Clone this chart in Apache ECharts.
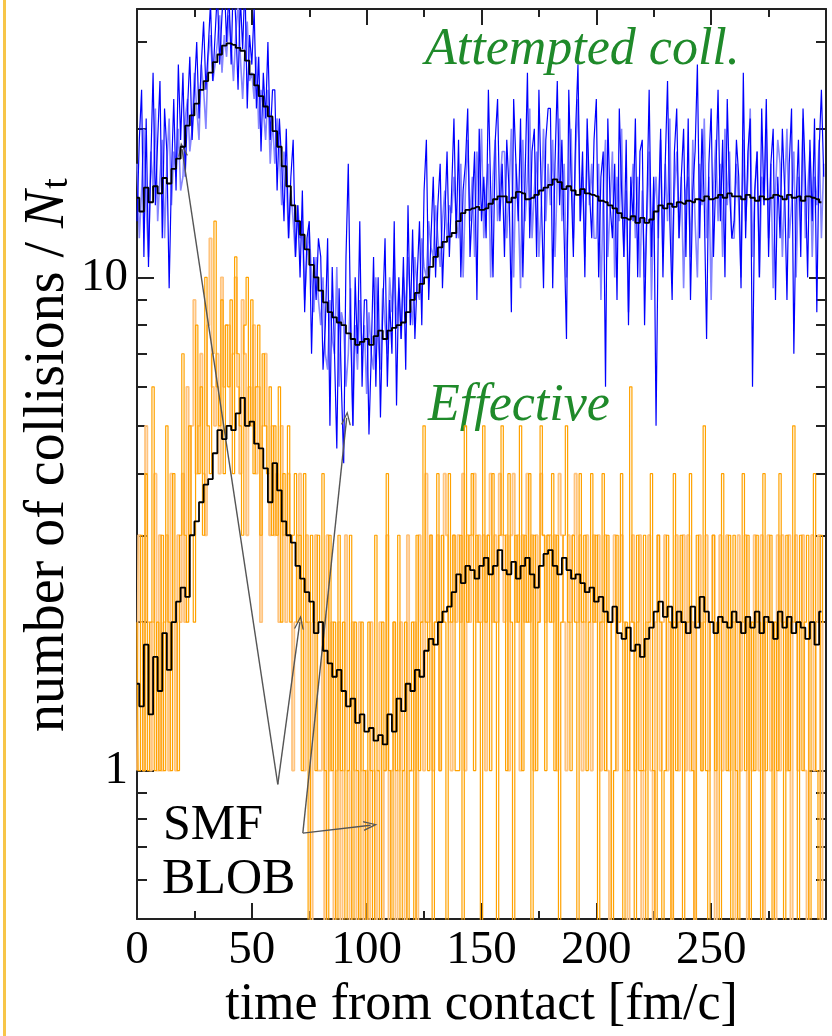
<!DOCTYPE html>
<html><head><meta charset="utf-8">
<script src="https://cdn.jsdelivr.net/npm/echarts@6/dist/echarts.min.js"></script>
<style>html,body{margin:0;padding:0;background:#fff}#c{width:832px;height:1036px}</style>
</head><body><div id="c"></div>
<script>
// sampling grids (fm/c): coloured BLOB traces every 1 fm/c, black SMF traces every 2 fm/c
const tStart = 0, dtColour = 1, dtBlack = 2;
const zeroFloor = 0.1; // zero counts fall below the log-axis floor

// Attempted collisions, BLOB run A (dark blue), t = 0..299
const blueDark = [
13,19,24,11,21,10.5,17,26,14,19,25,12,22,18,9.5,16,23,15,27,19,
26,16,22,28,19,24,30,21,27,33,24,29,36,25,31,38,27,34,40,30,
38,27,42,33,24,37,29,40,22,31,27,35,22,28,18,26,21,30,19,24,
24,15,21,17,13,20,12,16,19,11,14,10,15,8.5,12,13,7,11,9,12,
11,6.5,8,12,5,10.5,7,4.5,9.5,6,4.2,11,17,8,5,10,7,13,6,9,
9,4.8,7,11,6,10,5.2,8.5,12,6,9,7,13,5.5,10,7.5,11,6.5,14,8,
12.5,7.5,10,13,8,15,19,9,12,16,10,14,17,9.5,13,18,11,15,21,12,
19,10,15,17,22,11,14,18,9,20,13,16,12,24,15,10,19,23,13,17,
11,19,15,8.5,23,17,13,21,10,16,26,12,18,20,11,24,15,9.5,19,22,
22,9.5,17,25,14,19,12,7.5,24,16,11,20,27,13,18,10,21,15,12,19,
23,10,16,18,6,21,14,12,17,9,22,15,11,19,8,16,13,21,10,18,
19,8,14,24,11,16,5,13,20,10,17,25,13,9,18,22,12,16,20,11,
21,9,15,18,27,12,20,14,7.5,17,22,11,16,24,13,19,10,23,15,12,
13,19,16,9.5,26,12,18,21,6,15,18,10,22,14,23,11,17,20,9,16,
12,20,15,9,17,22,7,14,19,11,22,16,10,19,13,21,8.5,18,24,16];

// Attempted collisions, BLOB run B (light blue), t = 0..299
const blueLight = [
17,12,15,20,14,11,18,15,22,13,16,19,12,17,21,14,18,16,20,15,
16,21,23,18,20,26,22,19,27,24,20,28,31,25,27,30,34,26,31,28,
34,30,25,31,36,28,23,29,33,25,26,23,28,20,24,22,19,24,17,21,
17,21,18,14,18,16,12,15,13,11,14,12,13,9,11,12.5,10,8.5,11,9,
8,10,7,6.5,9,7.5,7,10.5,6,8.5,8,6,7,9.5,5,8,6.5,9,7,8,
5.8,8.5,7,6.5,10,7.5,6.5,9.5,8,7,10,8.5,11,8,9.5,7.5,10,8.5,11,9,
8,11,9.5,9,12,10.5,10,13,11.5,11,14,12,10.5,13,15,12,14,13.5,16,13,
12,17,10,15,19,13,16,11,18,14,20,12,15,17,10,16,19,13,15,18,
18,12,15,20,10,17,14,9.5,19,13,16,22,12,15,18,11,14,20,13,17,
14,19,11,16,21,13,17,10,15,20,12,18,23,13,16,11,19,14,17,12,
12,17,9,15,19,11,14,18,10,16,13,20,11,15,8.5,14,17,12,16,10,
15,10,13,18,9,14,16,12,19,11,17,13,21,10,15,18,12,16,9.5,15,
16,11,19,13,10,17,14,21,12,16,9,15,19,13,17,11,20,14,18,12,
12,17,14,10,19,13,16,22,11,15,18,10,16,14,20,12,17,9.5,15,19,
17,11,15,20,12,14,18,10,16,13,21,12,15,18,11,16,14,19,12,17];

// Attempted collisions, SMF (black), t = 0..298 step 2
const blackAttempted = [
14.5,13.6,15.2,14.2,15.3,14.8,15.9,15.5,16.6,17.4,
18.4,20.3,21.3,22.5,24,25,26,27.3,28.3,29.5,
29.8,29.6,29.2,28.8,27.5,25.8,24.5,23.3,22.2,21.2,
19.8,18.4,16.8,15.3,14,13,12.2,11.4,10.6,10,
9.4,8.9,8.5,8.3,8.1,8,7.7,7.5,7.3,7.4,
7.5,7.3,7.6,7.8,7.5,7.8,7.9,8.0,8.1,8.5,
9,9.3,9.7,10,10.5,11,11.5,11.8,12.1,12.3,
13,13.5,13.7,13.8,13.9,13.7,13.8,14.1,14.4,14.6,
14.6,14.2,14.5,14.9,14.8,14.4,14.5,14.7,15,15.2,
15.4,15.8,15.6,15.1,15.3,15,14.7,15.1,14.8,14.7,
14.6,14.3,14.2,14,13.8,13.5,13.2,13.1,13.3,12.9,
13.2,12.9,13.1,13.6,14,13.8,14.1,13.9,14.2,14.1,
14.3,14.2,14.4,14.3,14.6,14.4,14.5,14.7,14.5,14.8,
14.6,14.6,14.4,14.7,14.5,14.3,14.6,14.4,14.5,14.7,
14.6,14.4,14.7,14.5,14.6,14.3,14.6,14.5,14.4,14.2];

// Effective collisions, SMF (black), t = 0..298 step 2
const blackEffective = [
1.5,1.35,1.8,1.3,1.7,1.45,1.9,1.6,2.0,2.2,
2.35,2.25,3.0,3.2,3.5,3.8,3.9,4.4,4.9,4.7,
5.0,4.9,5.3,5.7,5.0,5.1,4.6,4.5,4.1,3.5,
4.2,3.7,3.2,3.0,2.9,2.6,2.45,2.3,2.2,1.9,
2.0,1.75,1.65,1.55,1.6,1.45,1.35,1.4,1.25,1.3,
1.2,1.22,1.15,1.18,1.13,1.3,1.2,1.4,1.32,1.5,
1.45,1.6,1.55,1.75,1.85,1.8,2.0,2.1,2.15,2.3,
2.5,2.4,2.6,2.55,2.45,2.6,2.7,2.5,2.6,2.8,
2.55,2.5,2.65,2.45,2.6,2.7,2.5,2.35,2.6,2.75,
2.8,2.6,2.5,2.7,2.55,2.45,2.5,2.4,2.3,2.35,
2.2,2.25,2.1,2.0,2.15,1.9,1.85,1.95,1.75,1.8,
1.7,1.85,1.95,2.1,2.2,2.05,2.15,1.95,2.1,2.0,
1.9,2.15,1.95,2.25,2.1,2.0,1.9,2.05,2.0,1.95,
2.1,2.0,1.9,2.05,1.95,2.1,1.9,2.05,2.0,1.85,
2.1,1.95,2.05,1.9,2.0,1.95,1.85,2.0,1.8,2.1];

// Effective collisions, BLOB run A (dark orange), integer counts, t = 0..299
const orangeDark = [
2,1,3,1,4,1,2,6,1,2,1,3,1,5,2,1,4,2,1,3,
7,3,2,5,3,2,8,4,6,3,10,5,4,7,13,6,5,9,4,8,
6,9,4,11,7,5,3,8,10,5,9,4,6,8,3,7,5,4,6,3,
5,3,6,2,4,3,5,2,3,4,2,3,1,4,2,0,3,2,1,3,
2,4,1,0,3,1,2,0,3,1,2,0,1,3,0,2,1,0,2,1,
0,2,1,0,3,1,0,2,1,4,1,0,2,1,3,0,1,2,0,1,
2,0,3,1,2,5,2,1,3,0,2,4,1,3,2,0,4,2,3,1,
1,3,0,5,2,3,4,1,3,2,0,5,2,3,1,4,2,0,3,5,
3,1,4,2,0,3,2,5,1,3,2,4,0,3,1,2,5,3,1,3,
2,4,1,3,0,2,3,5,2,1,3,2,0,4,2,3,1,2,4,2,
3,0,2,4,1,3,2,0,1,3,2,4,0,2,1,6,2,0,3,1,
1,3,0,2,4,1,0,3,2,0,1,3,2,0,4,1,2,3,0,2,
2,4,1,0,3,2,1,5,1,0,2,3,1,2,0,4,2,1,3,0,
3,1,0,2,4,1,3,0,2,1,3,2,0,4,1,2,3,0,2,1,
4,2,0,3,1,2,5,2,0,3,1,2,3,0,2,4,1,0,3,2];

// Effective collisions, BLOB run B (light orange), integer counts, t = 0..299
const orangeLight = [
1,3,2,1,5,2,1,2,4,1,3,1,2,3,1,4,2,1,3,2,
4,2,6,3,5,9,4,5,7,4,3,8,12,6,5,7,4,10,6,8,
8,5,7,10,6,4,9,7,3,6,5,8,4,6,2,5,7,4,3,5,
3,4,2,5,3,2,4,3,1,2,3,4,2,1,3,2,0,2,3,1,
1,2,0,3,1,2,0,1,2,0,1,3,1,0,2,1,0,2,1,0,
1,0,2,1,0,1,2,0,1,3,0,1,2,0,1,2,1,0,3,1,
1,2,0,3,2,1,4,2,3,1,2,3,1,2,4,3,2,1,3,2,
3,2,4,1,3,2,3,4,2,3,2,3,1,3,4,2,3,2,4,3,
2,3,1,3,4,2,3,1,3,2,4,2,3,1,3,2,4,3,2,3,
3,2,3,1,4,3,2,1,3,2,3,4,2,3,1,2,3,2,1,3,
2,3,1,2,3,1,0,2,3,1,2,3,2,1,0,2,3,1,2,3,
0,1,2,3,1,0,2,3,1,2,3,1,2,0,2,3,1,2,3,1,
3,1,2,0,2,3,1,2,3,1,2,3,0,2,3,1,2,3,1,2,
2,0,3,1,2,3,0,2,1,3,2,1,3,0,2,3,1,2,0,3,
1,3,2,1,3,0,2,3,1,2,3,1,0,2,3,1,2,3,0,2];

// axis ticks
const xTickLabels = [0, 50, 100, 150, 200, 250];
const yMajorTicks = [1, 10];
const yMinorTicks = [0.6, 0.7, 0.8, 0.9, 2, 3, 4, 5, 6, 7, 8, 9, 20, 30];

// annotation arrows (data coords): [from, to]
const arrows = [
  [[61.3, 0.938], [19.6, 18.2]],
  [[61.3, 0.938], [70.9, 2.0]],
  [[72.2, 0.747], [91.3, 5.19]],
  [[72.2, 0.747], [101.7, 0.775]]
];

(function () {
  const toPairs = (arr, dt) => arr.map((v, i) => [tStart + i * dt, v > 0 ? v : zeroFloor]);
  const lineCol = '#222';
  const chevron = 'path://M0,14 L5,0 L10,14 L8.6,14 L5,3.6 L1.4,14 Z';
  function yAx(pos, showLine, ticks, len, labels) {
    return {
      type: 'log', logBase: 10, min: 0.5, max: 35, position: pos, splitLine: {show: false},
      axisLine: {show: showLine, onZero: false, lineStyle: {color: lineCol, width: 2}},
      axisTick: {inside: true, length: len, customValues: ticks, lineStyle: {color: lineCol, width: 2}},
      axisLabel: labels ? {show: true, customValues: labels, fontFamily: 'Liberation Serif', fontSize: 47, color: '#000', margin: 9} : {show: false}
    };
  }
  function xAx(pos, withLabels) {
    const ax = {
      type: 'value', min: 0, max: 300, interval: 50, position: pos,
      axisLine: {show: true, onZero: false, lineStyle: {color: lineCol, width: 2}},
      axisTick: {inside: true, length: 16, lineStyle: {color: lineCol, width: 2}},
      minorTick: {show: true, splitNumber: 2, length: 8, lineStyle: {color: lineCol, width: 2}},
      splitLine: {show: false},
      axisLabel: {show: false}
    };
    if (withLabels) {
      ax.axisLabel = {show: true, customValues: xTickLabels, fontFamily: 'Liberation Serif', fontSize: 47, color: '#000', margin: 8};
      ax.name = 'time from contact [fm/c]';
      ax.nameLocation = 'middle';
      ax.nameGap = 42;
      ax.nameTextStyle = {fontFamily: 'Liberation Serif', fontSize: 52, color: '#000', verticalAlign: 'top'};
    }
    return ax;
  }
  const chart = echarts.init(document.getElementById('c'));
  chart.setOption({
    animation: false,
    grid: {left: 137, top: 9, right: 6, bottom: 96},
    xAxis: [xAx('bottom', true), xAx('top', false)],
    yAxis: [
      yAx('left', true, yMajorTicks, 17, yMajorTicks),
      yAx('left', false, yMinorTicks, 10, null),
      yAx('right', true, yMajorTicks, 17, null),
      yAx('right', false, yMinorTicks, 10, null)
    ],
    series: [
      {name: 'BLOB eff B', type: 'line', step: 'middle', data: toPairs(orangeLight, dtColour), showSymbol: false,
       lineStyle: {color: '#ffc47e', width: 1.8}, z: 1},
      {name: 'BLOB eff A', type: 'line', step: 'middle', data: toPairs(orangeDark, dtColour), showSymbol: false,
       lineStyle: {color: '#ffa200', width: 1.2}, z: 2},
      {name: 'BLOB att B', type: 'line', data: toPairs(blueLight, dtColour), showSymbol: false,
       lineStyle: {color: '#8585ff', width: 1.6}, z: 3},
      {name: 'BLOB att A', type: 'line', data: toPairs(blueDark, dtColour), showSymbol: false,
       lineStyle: {color: '#0000ff', width: 1.2}, z: 4},
      {name: 'SMF eff', type: 'line', step: 'middle', data: toPairs(blackEffective, dtBlack), showSymbol: false,
       lineStyle: {color: '#000', width: 1.8}, z: 5},
      {name: 'SMF att', type: 'line', step: 'middle', data: toPairs(blackAttempted, dtBlack), showSymbol: false,
       lineStyle: {color: '#000', width: 1.8}, z: 6,
       markLine: {symbol: ['none', chevron], symbolSize: [10, 14],
         label: {show: false}, emphasis: {disabled: true},
         lineStyle: {color: '#555', width: 1.4, type: 'solid'},
         data: arrows.map(a => [{coord: a[0]}, {coord: a[1]}])}}
    ],
    graphic: [
      {type: 'rect', shape: {x: 3, y: 0, width: 3, height: 1036}, style: {fill: '#f7c548'}},
      {type: 'text', x: 46, y: 455, rotation: Math.PI / 2,
       style: {text: '{a|number of collisions / }{b|N}{c|t}', align: 'center', verticalAlign: 'middle',
         rich: {
           a: {fontFamily: 'Liberation Serif', fontSize: 56, fill: '#000', lineHeight: 60, verticalAlign: 'bottom'},
           b: {fontFamily: 'Liberation Serif', fontSize: 56, fontStyle: 'italic', fill: '#000', lineHeight: 60, verticalAlign: 'bottom'},
           c: {fontFamily: 'Liberation Serif', fontSize: 38, fill: '#000', lineHeight: 40, verticalAlign: 'bottom', padding: [0, 0, 0, 2]}
         }}},
      {type: 'text', x: 425, y: 50,
       style: {text: 'Attempted coll.', fontFamily: 'Liberation Serif', fontSize: 52, fontStyle: 'italic', fill: '#1f8a2a', align: 'left', verticalAlign: 'middle'}},
      {type: 'text', x: 428, y: 406,
       style: {text: 'Effective', fontFamily: 'Liberation Serif', fontSize: 52, fontStyle: 'italic', fill: '#1f8a2a', align: 'left', verticalAlign: 'middle'}},
      {type: 'text', x: 163, y: 826,
       style: {text: 'SMF', fontFamily: 'Liberation Serif', fontSize: 50, fill: '#000', align: 'left', verticalAlign: 'middle'}},
      {type: 'text', x: 162, y: 880,
       style: {text: 'BLOB', fontFamily: 'Liberation Serif', fontSize: 50, fill: '#000', align: 'left', verticalAlign: 'middle'}}
    ]
  });
})();
</script></body></html>
